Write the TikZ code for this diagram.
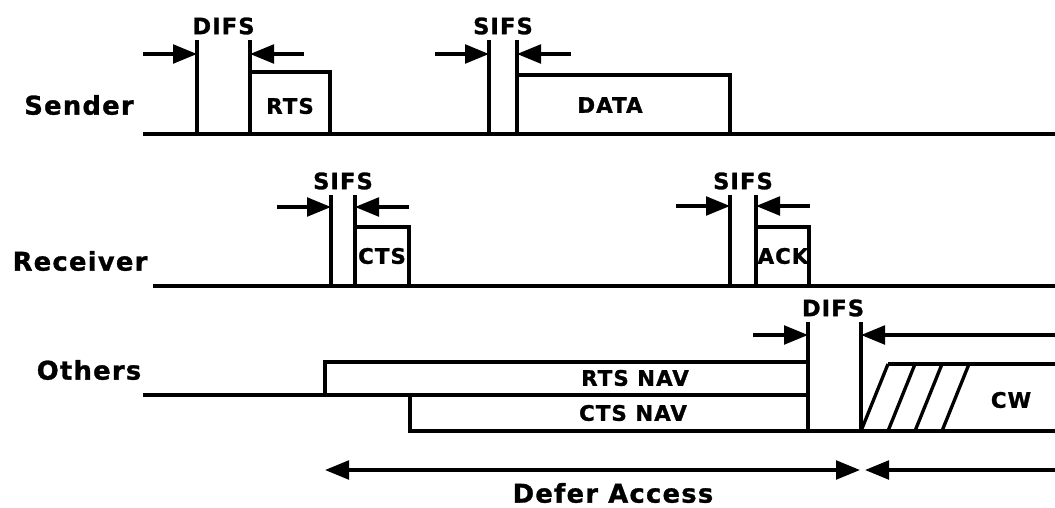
\documentclass[tikz,border=0pt]{standalone}
\usepackage{fontspec}
\usepackage{tikz}
\usetikzlibrary{arrows.meta,positioning}
\newfontfamily\heavy[LetterSpace=5,BoldFeatures={FakeBold=1.2}]{DejaVu Sans}
\tikzset{
  ln/.style={line width=2.5pt},
  gap/.style={ln,->},
  row/.style={font=\heavy\bfseries\fontsize{19.3}{22}\selectfont,inner sep=0pt},
  tag/.style={font=\heavy\bfseries\fontsize{16.9}{19}\selectfont,inner sep=0pt},
  lbl/.style={font=\heavy\bfseries\fontsize{16}{18}\selectfont,inner sep=0pt},
}

\begin{document}
\begin{tikzpicture}[x=0.75pt,y=-0.75pt,>={Triangle[length=18pt,width=14pt]}]
  \useasboundingbox (0,0) rectangle (1055,507);
  % station names
  \node[row] (snd) at (79,105) {Sender};
  \node[row] (rcv) at (80,261) {Receiver};
  \node[row] (oth) at (89,370) {Others};
  % time lines
  \draw[ln] (143,134) -- (1055,134);
  \draw[ln] (153,286) -- (1055,286);
  \draw[ln] (143,395) -- (808,395);
  % interframe spaces: left / right / top / base / arrow y / name / text
  \foreach \a/\b/\t/\g/\h/\n/\s in {197/250/40/134/54/d1/DIFS,489/517/40/134/54/s1/SIFS,
                                     331/355/195/286/207/s2/SIFS,730/756/195/286/206/s3/SIFS}{
    \pgfmathsetmacro\m{(\a+\b)/2}
    \draw[ln] (\a,\t) -- (\a,\g);
    \draw[ln] (\b,\t) -- (\b,\g);
    \node[tag] (\n) at (\m,\t-14) {\s};
    \coordinate (\n l) at (\a-54,\h);
    \coordinate (\n r) at (\b+54,\h);
    \draw[gap] (\n l) -- (\a,\h);
    \draw[gap] (\n r) -- (\b,\h);
  }
  % frames
  \draw[ln] (250,72) -- (330,72) -- (330,134);
  \node[lbl] (rts) at (290,106) {RTS};
  \draw[ln] (517,75) -- (730,75) -- (730,134);
  \node[lbl] (data) at (610,105) {DATA};
  \draw[ln] (355,227) -- (409,227) -- (409,286);
  \node[lbl] (cts) at (382,256) {CTS};
  \draw[ln] (756,227) -- (809,227) -- (809,286);
  \node[lbl] (ack) at (783,256) {ACK};
  % NAV
  \draw[ln] (325,395) |- (808,362);
  \draw[ln] (410,395) |- (1055,431);
  \node[lbl] (rnav) at (635,378) {RTS NAV};
  \node[lbl] (cnav) at (633,413) {CTS NAV};
  % DIFS before contention
  \draw[ln] (808,322) -- (808,431);
  \draw[ln] (861,322) -- (861,431);
  \node[tag] (d2) at (833,308) {DIFS};
  \coordinate (d2l) at (753,335);
  \coordinate (d2r) at (1055,335);
  \draw[gap] (d2l) -- (808,335);
  \draw[gap] (d2r) -- (861,335);
  % contention window
  \draw[ln] (888,364) -- (1055,364);
  \foreach \k in {0,1,2,3}{
    \draw[ln] (861+27*\k,431) -- (888+27*\k,364);
  }
  \node[lbl] (cw) at (1011,400) {CW};
  % defer
  \coordinate (df1) at (325,470);
  \coordinate (df2) at (860,470);
  \coordinate (df3) at (1055,470);
  \draw[ln,<->] (df1) -- (df2);
  \draw[gap] (df3) -- (865,470);
  \node[row] (defer) at (613,493) {Defer Access};
\end{tikzpicture}
\end{document}
